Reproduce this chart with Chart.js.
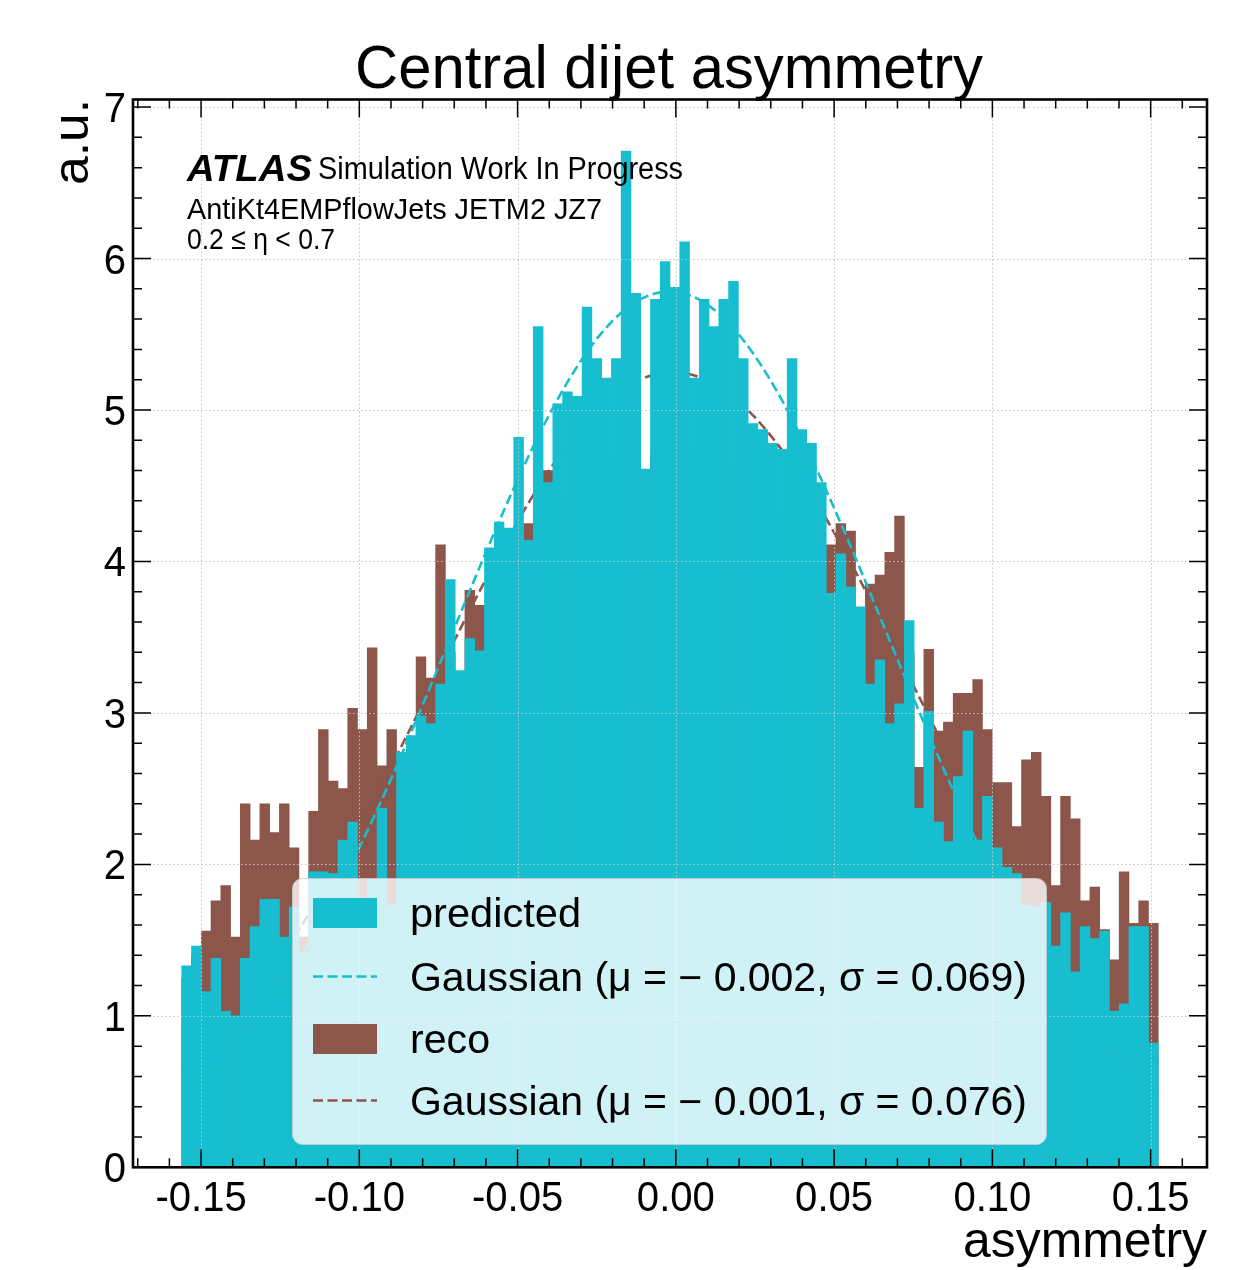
<!DOCTYPE html>
<html>
<head>
<meta charset="utf-8">
<script src="https://cdn.jsdelivr.net/npm/chart.js@4.4.1/dist/chart.umd.min.js"></script>
<style>
  html, body { margin: 0; padding: 0; background: #ffffff; }
  #wrap { width: 1241px; height: 1270px; position: relative; }
  canvas { display: block; }
</style>
</head>
<body>
<div id="wrap"><canvas id="c" width="1241" height="1270"></canvas></div>
<script>
// ---- histogram binning and axis ranges ----
const binRange = [-0.1561, 0.1524];
const nBins = 100;
const xRange = [-0.1715, 0.1678];
const yRange = [0, 7.05];

const xTickValues = [-0.15, -0.10, -0.05, 0.00, 0.05, 0.10, 0.15];
const xTickLabels = ['-0.15', '-0.10', '-0.05', '0.00', '0.05', '0.10', '0.15'];
const yTickValues = [0, 1, 2, 3, 4, 5, 6, 7];
const yTickLabels = ['0', '1', '2', '3', '4', '5', '6', '7'];

// ---- normalised bin contents (a.u.) ----
const predicted = [
  1.33, 1.46, 1.16, 1.38, 1.03, 1.00, 1.38, 1.59, 1.77, 1.77,
  1.52, 1.72, 1.42, 1.95, 1.95, 1.94, 2.16, 2.28, 1.78, 1.90,
  2.37, 1.73, 2.74, 2.85, 2.98, 2.93, 3.19, 3.88, 3.28, 3.49,
  3.41, 4.09, 4.26, 4.22, 4.82, 4.14, 5.55, 4.52, 5.04, 5.12,
  5.09, 5.68, 5.34, 5.21, 5.34, 6.71, 5.77, 4.61, 5.73, 5.98,
  5.81, 6.11, 5.21, 5.73, 5.55, 5.73, 5.85, 5.34, 4.91, 4.87,
  4.78, 4.74, 5.34, 4.87, 4.78, 4.52, 3.79, 4.05, 3.83, 3.70,
  3.19, 3.35, 2.93, 3.06, 3.61, 2.37, 3.01, 2.28, 2.15, 2.58,
  2.88, 2.16, 2.45, 2.11, 1.98, 1.94, 1.73, 1.72, 1.75, 1.46,
  1.68, 1.29, 1.59, 1.51, 1.56, 1.03, 1.08, 1.59, 1.59, 0.82
];
const reco = [
  1.25, 1.40, 1.56, 1.76, 1.86, 1.52, 2.40, 2.16, 2.40, 2.21,
  2.40, 2.11, 1.52, 2.35, 2.89, 2.55, 2.50, 3.03, 2.89, 3.43,
  2.65, 2.89, 2.50, 2.60, 3.37, 3.23, 4.11, 3.40, 3.00, 3.81,
  3.71, 3.70, 3.90, 3.80, 4.10, 4.25, 4.30, 4.60, 4.30, 4.40,
  4.40, 4.50, 4.60, 4.50, 4.70, 4.60, 4.70, 4.40, 4.70, 4.80,
  4.70, 4.75, 4.60, 4.70, 4.60, 4.65, 4.50, 4.50, 4.40, 4.30,
  4.30, 4.20, 4.30, 4.20, 4.10, 4.10, 4.11, 4.25, 4.20, 3.50,
  3.85, 3.91, 4.06, 4.30, 3.40, 2.64, 3.42, 2.88, 2.94, 3.13,
  3.13, 3.22, 2.89, 2.54, 2.54, 2.25, 2.69, 2.74, 2.45, 1.86,
  2.45, 2.30, 1.76, 1.85, 1.57, 1.37, 1.95, 1.61, 1.76, 1.61
];

// ---- Gaussian fit results ----
const fitPredicted = { mu: -0.002, sigma: 0.069 };
const fitReco = { mu: -0.001, sigma: 0.076 };

const CYAN = '#17becf';
const BROWN = '#8c564b';
const FONT = "'Liberation Sans', 'Helvetica', Arial, sans-serif";

const binW = (binRange[1] - binRange[0]) / nBins;
const centers = Array.from({ length: nBins }, (_, i) => binRange[0] + (i + 0.5) * binW);
const toXY = vals => vals.map((v, i) => ({ x: centers[i], y: v }));

function gaussPdf(x, mu, s) {
  return Math.exp(-0.5 * ((x - mu) / s) ** 2) / (s * Math.sqrt(2 * Math.PI));
}
const nCurve = 400;
const curveX = Array.from({ length: nCurve + 1 }, (_, i) => binRange[0] + i * (binRange[1] - binRange[0]) / nCurve);
const curve = f => curveX.map(x => ({ x, y: gaussPdf(x, f.mu, f.sigma) }));

function fmtSigned(v) {
  return (v < 0 ? '\u2212 ' : '') + Math.abs(v).toFixed(3);
}
function gaussLabel(f) {
  return 'Gaussian (\u03bc = ' + fmtSigned(f.mu) + ', \u03c3 = ' + f.sigma.toFixed(3) + ')';
}

const legendItems = [
  { kind: 'rect', color: CYAN, text: 'predicted', width: 171 },
  { kind: 'dash', color: CYAN, text: gaussLabel(fitPredicted), width: 617 },
  { kind: 'rect', color: BROWN, text: 'reco', width: 80 },
  { kind: 'dash', color: BROWN, text: gaussLabel(fitReco), width: 617 }
];

// text helper: optional target width squeezes/stretches horizontally
function drawText(ctx, str, x, y, o) {
  ctx.save();
  ctx.font = (o.style || 'normal') + ' ' + (o.weight || 'normal') + ' ' + o.size + 'px ' + FONT;
  ctx.fillStyle = '#000000';
  ctx.textBaseline = 'alphabetic';
  ctx.textAlign = 'left';
  const w = ctx.measureText(str).width;
  const sx = o.width ? o.width / w : (o.sx || 1);
  const dw = w * sx;
  if (o.rotate) {
    // reads bottom-to-top, text ends at y
    ctx.translate(x, y + dw);
    ctx.rotate(-Math.PI / 2);
  } else {
    let left = x;
    if (o.align === 'center') left = x - dw / 2;
    else if (o.align === 'right') left = x - dw;
    ctx.translate(left, y);
  }
  ctx.scale(sx, 1);
  ctx.fillText(str, 0, 0);
  ctx.restore();
}

const gridPlugin = {
  id: 'dottedGrid',
  afterDatasetsDraw(chart) {
    const { ctx, chartArea: a, scales } = chart;
    ctx.save();
    ctx.beginPath();
    ctx.rect(a.left, a.top, a.right - a.left, a.bottom - a.top);
    ctx.clip();
    ctx.strokeStyle = '#c4c4c4';
    ctx.lineWidth = 1;
    ctx.setLineDash([1.5, 2.5]);
    xTickValues.forEach(v => {
      const px = Math.round(scales.x.getPixelForValue(v)) + 0.5;
      ctx.beginPath(); ctx.moveTo(px, a.top); ctx.lineTo(px, a.bottom); ctx.stroke();
    });
    yTickValues.forEach(v => {
      const py = Math.round(scales.y.getPixelForValue(v)) + 0.5;
      ctx.beginPath(); ctx.moveTo(a.left, py); ctx.lineTo(a.right, py); ctx.stroke();
    });
    ctx.restore();

    // legend box
    const L = { x: 292.5, y: 878.5, w: 754, h: 266, r: 10 };
    ctx.save();
    ctx.beginPath();
    ctx.roundRect(L.x, L.y, L.w, L.h, L.r);
    ctx.fillStyle = 'rgba(255,255,255,0.8)';
    ctx.fill();
    ctx.strokeStyle = 'rgba(204,204,204,0.8)';
    ctx.lineWidth = 1;
    ctx.stroke();
    const rowY = [913, 976.5, 1039, 1100.5];
    legendItems.forEach((it, i) => {
      const cy = rowY[i];
      if (it.kind === 'rect') {
        ctx.fillStyle = it.color;
        ctx.fillRect(313, cy - 15, 64, 30);
      } else {
        ctx.strokeStyle = it.color;
        ctx.lineWidth = 2.4;
        ctx.setLineDash([10, 4.5]);
        ctx.beginPath(); ctx.moveTo(313, cy); ctx.lineTo(377, cy); ctx.stroke();
        ctx.setLineDash([]);
      }
      drawText(ctx, it.text, 410, cy + 14, { size: 40, width: it.width });
    });
    ctx.restore();
  },
  afterDraw(chart) {
    const { ctx, chartArea: a, scales } = chart;
    ctx.save();
    // ticks (inward, all four sides)
    ctx.strokeStyle = '#000000';
    ctx.lineWidth = 1.5;
    const xMaj = 18, xMin = 9;
    const tickX = (v, len) => {
      const px = scales.x.getPixelForValue(v);
      ctx.beginPath();
      ctx.moveTo(px, a.bottom); ctx.lineTo(px, a.bottom - len);
      ctx.moveTo(px, a.top); ctx.lineTo(px, a.top + len);
      ctx.stroke();
    };
    const tickY = (v, len) => {
      const py = scales.y.getPixelForValue(v);
      ctx.beginPath();
      ctx.moveTo(a.left, py); ctx.lineTo(a.left + len, py);
      ctx.moveTo(a.right, py); ctx.lineTo(a.right - len, py);
      ctx.stroke();
    };
    for (let k = -17; k <= 16; k++) {
      const v = k / 100;
      if (k % 5 === 0) tickX(v, xMaj); else tickX(v, xMin);
    }
    for (let k = 0; k <= 35; k++) {
      const v = k / 5;
      if (v > yRange[1]) break;
      if (k % 5 === 0) tickY(v, xMaj); else tickY(v, xMin);
    }
    // frame
    ctx.lineWidth = 2.6;
    ctx.strokeRect(a.left, a.top, a.right - a.left, a.bottom - a.top);
    ctx.restore();

    // tick labels
    ctx.save();
    ctx.font = '42px ' + FONT;
    const tsx = 78 / ctx.measureText('0.00').width;
    ctx.restore();
    xTickValues.forEach((v, i) => {
      drawText(ctx, xTickLabels[i], scales.x.getPixelForValue(v), 1211, { size: 42, align: 'center', sx: tsx });
    });
    yTickValues.forEach((v, i) => {
      drawText(ctx, yTickLabels[i], 126, scales.y.getPixelForValue(v) + 15, { size: 42, align: 'right', sx: tsx });
    });

    // axis titles and chart title
    drawText(ctx, 'Central dijet asymmetry', 669, 88, { size: 62, align: 'center', width: 628 });
    drawText(ctx, 'asymmetry', 1207, 1257, { size: 50, align: 'right', width: 244 });
    drawText(ctx, 'a.u.', 88, 99, { size: 50, rotate: true, width: 86 });

    // experiment label
    drawText(ctx, 'ATLAS', 187, 181, { size: 37, weight: 'bold', style: 'italic', width: 125 });
    drawText(ctx, 'Simulation Work In Progress', 318, 179, { size: 31, width: 365 });
    drawText(ctx, 'AntiKt4EMPflowJets JETM2 JZ7', 187, 219, { size: 30, width: 415 });
    drawText(ctx, '0.2 \u2264 \u03b7 < 0.7', 187, 249, { size: 30, width: 148 });
  }
};

new Chart(document.getElementById('c'), {
  type: 'bar',
  data: {
    datasets: [
      {
        type: 'bar', label: 'reco', data: toXY(reco), backgroundColor: BROWN,
        borderWidth: 0, barPercentage: 1, categoryPercentage: 1, grouped: false, order: 4
      },
      {
        type: 'line', label: gaussLabel(fitReco), data: curve(fitReco), borderColor: BROWN,
        borderWidth: 2.6, borderDash: [10, 4.5], pointRadius: 0, fill: false, tension: 0, order: 3
      },
      {
        type: 'bar', label: 'predicted', data: toXY(predicted), backgroundColor: CYAN,
        borderWidth: 0, barPercentage: 1, categoryPercentage: 1, grouped: false, order: 2
      },
      {
        type: 'line', label: gaussLabel(fitPredicted), data: curve(fitPredicted), borderColor: CYAN,
        borderWidth: 2.6, borderDash: [10, 4.5], pointRadius: 0, fill: false, tension: 0, order: 1
      }
    ]
  },
  options: {
    responsive: false,
    devicePixelRatio: 1,
    animation: false,
    events: [],
    layout: { padding: { left: 0, right: 34, top: 99.5, bottom: 0 } },
    plugins: { legend: { display: false }, tooltip: { enabled: false }, title: { display: false } },
    scales: {
      x: {
        type: 'linear', min: xRange[0], max: xRange[1], offset: false,
        grid: { display: false }, border: { display: false }, ticks: { display: false },
        afterBuildTicks: s => { s.ticks = xTickValues.map(v => ({ value: v })); },
        afterFit: s => { s.height = 102.7; }
      },
      y: {
        type: 'linear', min: yRange[0], max: yRange[1],
        grid: { display: false }, border: { display: false }, ticks: { display: false },
        afterBuildTicks: s => { s.ticks = yTickValues.map(v => ({ value: v })); },
        afterFit: s => { s.width = 133; }
      }
    }
  },
  plugins: [gridPlugin]
});
</script>
</body>
</html>
